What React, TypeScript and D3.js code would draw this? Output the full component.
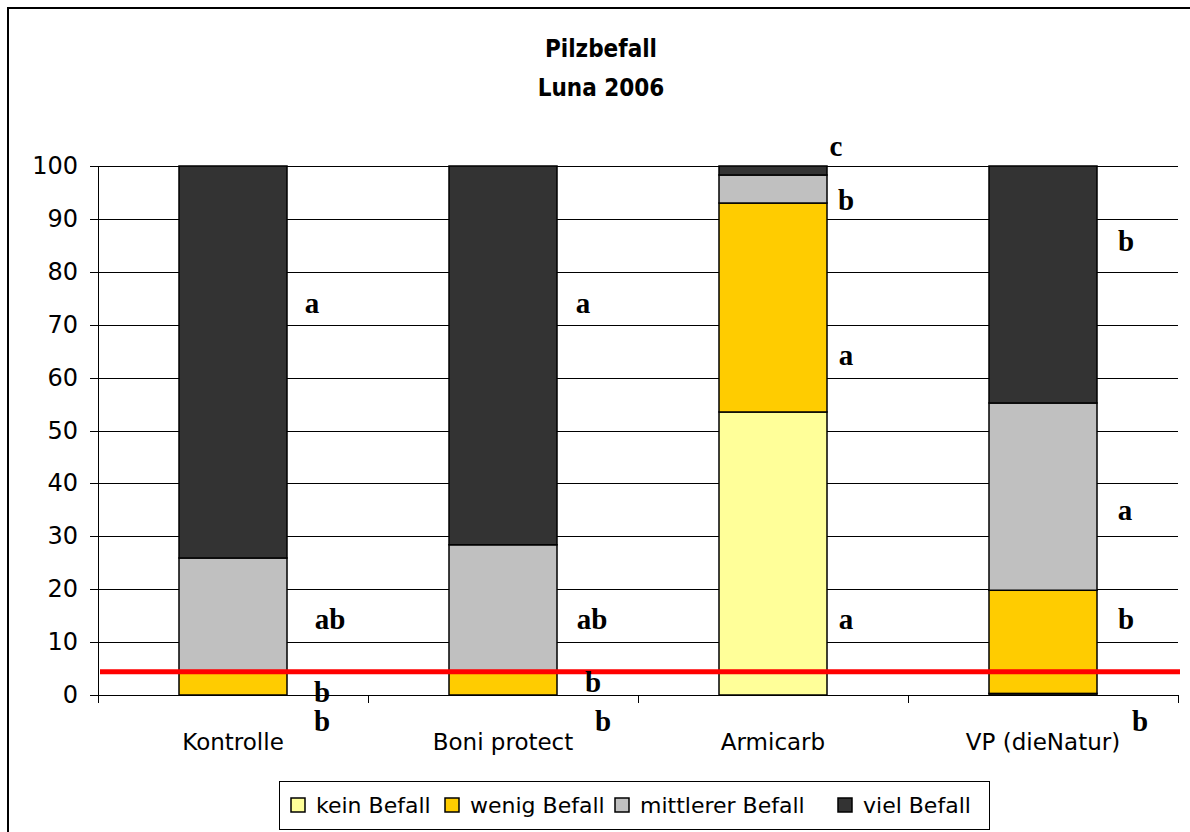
import * as React from "react";
import * as d3 from "d3";

const categories = ["Kontrolle", "Boni protect", "Armicarb", "VP (dieNatur)"];
const seriesNames = ["kein Befall", "wenig Befall", "mittlerer Befall", "viel Befall"];
const keinBefall = [0, 0, 53.5, 0.3];
const wenigBefall = [4.2, 4.3, 39.5, 19.5];
const mittlererBefall = [21.7, 24.1, 5.3, 35.4];
const vielBefall = [74.1, 71.6, 1.7, 44.8];
const yTicks = [0, 10, 20, 30, 40, 50, 60, 70, 80, 90, 100];
const threshold = 4.4;

// significance letters: category, letter, value of baseline, offset from bar centre
const letters = [
  { cat: "Kontrolle", text: "a", v: 72.2, dx: 79 },
  { cat: "Kontrolle", text: "ab", v: 12.5, dx: 97 },
  { cat: "Kontrolle", text: "b", v: -1.3, dx: 89 },
  { cat: "Kontrolle", text: "b", v: -6.8, dx: 89 },
  { cat: "Boni protect", text: "a", v: 72.2, dx: 80 },
  { cat: "Boni protect", text: "ab", v: 12.5, dx: 89 },
  { cat: "Boni protect", text: "b", v: 0.6, dx: 90 },
  { cat: "Boni protect", text: "b", v: -6.8, dx: 100 },
  { cat: "Armicarb", text: "c", v: 101.9, dx: 63 },
  { cat: "Armicarb", text: "b", v: 91.7, dx: 73 },
  { cat: "Armicarb", text: "a", v: 62.4, dx: 73 },
  { cat: "Armicarb", text: "a", v: 12.5, dx: 73 },
  { cat: "VP (dieNatur)", text: "b", v: 83.9, dx: 83 },
  { cat: "VP (dieNatur)", text: "a", v: 33.1, dx: 82 },
  { cat: "VP (dieNatur)", text: "b", v: 12.5, dx: 83 },
  { cat: "VP (dieNatur)", text: "b", v: -6.8, dx: 97 },
];

const colors = ["#FFFF99", "#FFCC00", "#C0C0C0", "#333333"];
const sansFont = "'DejaVu Sans', sans-serif";
const serifFont = "'Liberation Serif', 'Times New Roman', serif";

export default function App() {
  const width = 1190;
  const height = 832;
  const left = 98;
  const right = 1178;
  const top = 166;
  const bottom = 695;

  const rows = categories.map((c, i) => ({
    cat: c,
    "kein Befall": keinBefall[i],
    "wenig Befall": wenigBefall[i],
    "mittlerer Befall": mittlererBefall[i],
    "viel Befall": vielBefall[i],
  }));

  const stack = d3.stack<any>().keys(seriesNames);
  const layers = stack(rows);

  const x = d3
    .scaleBand()
    .domain(categories)
    .range([left, right])
    .paddingInner(0.6)
    .paddingOuter(0.3);
  const y = d3.scaleLinear().domain([0, 100]).range([bottom, top]);

  const step = x.step();
  const boundaries = d3.range(categories.length + 1).map((i) => left + i * step);

  const legendX = [291, 445, 615, 838];

  return (
    <svg
      width={width}
      height={height}
      style={{ position: "absolute", left: 0, top: 0, background: "#fff" }}
    >
      {/* chart frame */}
      <line x1={8} x2={8} y1={7} y2={height} stroke="#000" strokeWidth={2} />
      <line x1={7} x2={width} y1={8} y2={8} stroke="#000" strokeWidth={2} />

      {/* title */}
      <g
        fontFamily="'DejaVu Sans Condensed', 'DejaVu Sans', sans-serif"
        fontWeight="bold"
        fontSize={24}
        textAnchor="middle"
        style={{ fontStretch: "condensed" }}
      >
        <text x={601} y={57}>Pilzbefall</text>
        <text x={601} y={96}>Luna 2006</text>
      </g>

      {/* grid lines */}
      {yTicks.map((t) => (
        <line
          key={t}
          x1={left - 8}
          x2={right}
          y1={Math.round(y(t)) + 0.5}
          y2={Math.round(y(t)) + 0.5}
          stroke="#000"
          strokeWidth={1}
        />
      ))}
      <line x1={left + 0.5} x2={left + 0.5} y1={top} y2={bottom + 8} stroke="#000" />
      {boundaries.slice(1).map((b, i) => (
        <line
          key={i}
          x1={Math.round(b) + 0.5}
          x2={Math.round(b) + 0.5}
          y1={bottom}
          y2={bottom + 8}
          stroke="#000"
        />
      ))}

      {/* y tick labels */}
      <g fontFamily={sansFont} fontSize={24} textAnchor="end" fill="#000">
        {yTicks.map((t) => (
          <text key={t} x={78} y={y(t) + 8}>
            {t}
          </text>
        ))}
      </g>

      {/* bars */}
      {layers.map((layer, li) => (
        <g key={layer.key} fill={colors[li]} stroke="#000" strokeWidth={1.5}>
          {layer.map((d, i) => {
            const h = y(d[0]) - y(d[1]);
            if (h <= 0) return null;
            return (
              <rect
                key={i}
                x={x(categories[i])}
                y={y(d[1])}
                width={x.bandwidth()}
                height={h}
              />
            );
          })}
        </g>
      ))}

      {/* threshold line */}
      <line
        x1={left + 2}
        x2={right + 2}
        y1={y(threshold)}
        y2={y(threshold)}
        stroke="#FF0000"
        strokeWidth={5}
      />

      {/* category labels */}
      <g fontFamily={sansFont} fontSize={23} textAnchor="middle" fill="#000">
        {categories.map((c) => (
          <text key={c} x={(x(c) as number) + x.bandwidth() / 2} y={750}>
            {c}
          </text>
        ))}
      </g>

      {/* significance letters */}
      <g fontFamily={serifFont} fontWeight="bold" fontSize={29} textAnchor="middle">
        {letters.map((l, i) => (
          <text
            key={i}
            x={(x(l.cat) as number) + x.bandwidth() / 2 + l.dx}
            y={y(l.v)}
          >
            {l.text}
          </text>
        ))}
      </g>

      {/* legend */}
      <rect x={279.5} y={781.5} width={710} height={48} fill="#fff" stroke="#000" />
      {seriesNames.map((s, i) => (
        <g key={s}>
          <rect
            x={legendX[i]}
            y={798}
            width={14}
            height={14}
            fill={colors[i]}
            stroke="#000"
            strokeWidth={1.5}
          />
          <text
            x={legendX[i] + 25}
            y={813}
            fontFamily={sansFont}
            fontSize={22}
            fill="#000"
          >
            {s}
          </text>
        </g>
      ))}
    </svg>
  );
}
